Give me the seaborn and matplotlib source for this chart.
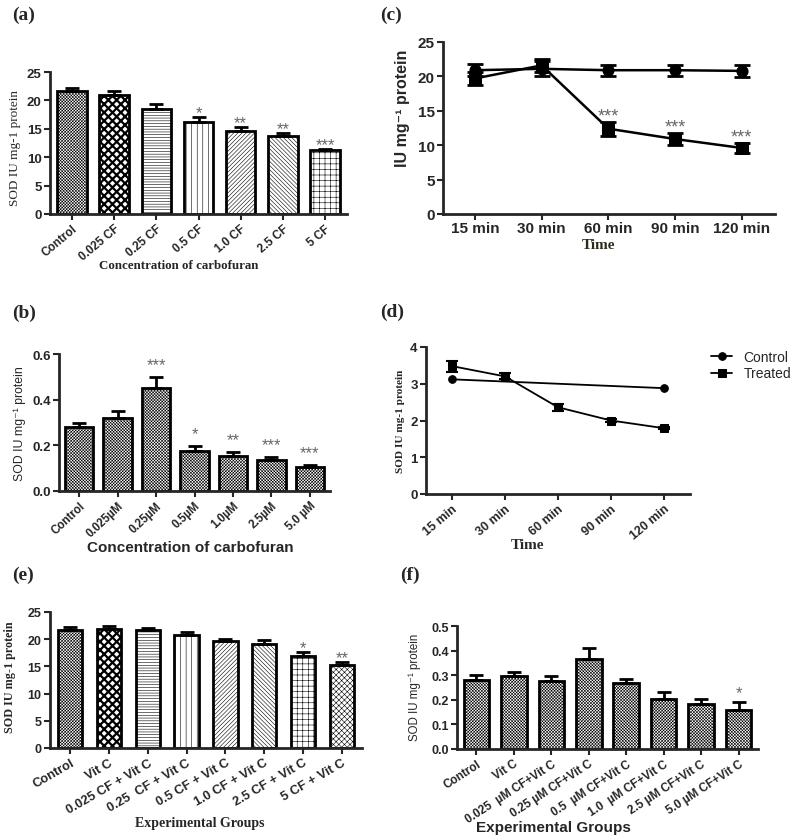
import numpy as np
import pandas as pd
import seaborn as sns
import matplotlib
matplotlib.use('Agg')
import matplotlib.pyplot as plt

# (a) SOD vs carbofuran concentration
a_groups = ['Control', '0.025 CF', '0.25 CF', '0.5 CF', '1.0 CF', '2.5 CF', '5 CF']
a_mean = [21.7, 21.0, 18.4, 16.2, 14.7, 13.7, 11.2]
a_err = [0.5, 0.6, 1.0, 0.9, 0.7, 0.6, 0.3]
a_stars = ['', '', '', '*', '**', '**', '***']

# (b) SOD vs carbofuran concentration (uM)
b_groups = ['Control', '0.025\u00b5M', '0.25\u00b5M', '0.5\u00b5M', '1.0\u00b5M', '2.5\u00b5M', '5.0 \u00b5M']
b_mean = [0.28, 0.32, 0.45, 0.175, 0.152, 0.137, 0.103]
b_err = [0.02, 0.03, 0.05, 0.023, 0.02, 0.014, 0.012]
b_stars = ['', '', '***', '*', '**', '***', '***']

# (c) time course
c_times = ['15 min', '30 min', '60 min', '90 min', '120 min']
c_control = [20.9, 21.1, 20.9, 20.9, 20.8]
c_control_err = [0.9, 1.1, 0.8, 0.8, 0.9]
c_treated = [19.7, 21.6, 12.4, 10.9, 9.6]
c_treated_err = [1.0, 1.0, 1.0, 0.9, 0.7]
c_stars = ['', '', '***', '***', '***']

# (d) time course
d_times = ['15 min', '30 min', '60 min', '90 min', '120 min']
d_control = [3.12, None, None, None, 2.88]
d_treated = [3.48, 3.20, 2.36, 2.00, 1.79]
d_treated_err = [0.15, 0.08, 0.1, 0.03, 0.03]

# (e) Vit C groups
e_groups = ['Control', 'Vit C', '0.025 CF + Vit C', '0.25  CF + Vit C', '0.5 CF + Vit C',
            '1.0 CF + Vit C', '2.5 CF + Vit C', '5 CF + Vit C']
e_mean = [21.7, 21.8, 21.6, 20.8, 19.6, 19.2, 16.9, 15.2]
e_err = [0.5, 0.6, 0.5, 0.6, 0.5, 0.6, 0.8, 0.6]
e_stars = ['', '', '', '', '', '', '*', '**']

# (f) Vit C groups (uM)
f_groups = ['Control', 'Vit C', '0.025  \u00b5M CF+Vit C', '0.25 \u00b5M CF+Vit C', '0.5  \u00b5M CF+Vit C',
            '1.0  \u00b5M CF+Vit C', '2.5 \u00b5M CF+Vit C', '5.0 \u00b5M CF+Vit C']
f_mean = [0.28, 0.295, 0.278, 0.365, 0.27, 0.203, 0.182, 0.16]
f_err = [0.02, 0.02, 0.02, 0.045, 0.015, 0.03, 0.02, 0.03]
f_stars = ['', '', '', '', '', '', '', '*']

sns.set_style('ticks')
plt.rcParams['font.family'] = ['Liberation Sans', 'DejaVu Sans']
plt.rcParams['hatch.linewidth'] = 0.4
SERIF = ['Liberation Serif', 'DejaVu Serif']
SANS = ['Liberation Sans', 'DejaVu Sans']

FINE = 'x' * 11
W, H = 791, 837
fig = plt.figure(figsize=(7.91, 8.37), dpi=100)


def make_ax(left, top, right, bottom):
    return fig.add_axes([left / W, 1 - bottom / H, (right - left) / W, (bottom - top) / H])


def style(ax, tick_size):
    sns.despine(ax=ax)
    for s in ['left', 'bottom']:
        ax.spines[s].set_linewidth(2)
    ax.tick_params(width=1.5, length=4, pad=2, labelsize=tick_size)
    for t in ax.get_yticklabels() + ax.get_xticklabels():
        t.set_fontweight('bold')


def bar_panel(ax, groups, mean, err, stars, hatches, width, star_gap, star_size=12):
    df = pd.DataFrame({'group': groups, 'mean': mean})
    sns.barplot(data=df, x='group', y='mean', order=groups, color='white',
                edgecolor='black', linewidth=2, width=width, ax=ax)
    for p, h in zip(ax.patches, hatches):
        p.set_hatch(h)
        if h == 'xxxx' and hasattr(p, 'set_hatch_linewidth'):
            p.set_hatch_linewidth(1.6)
    x = np.arange(len(groups))
    ax.errorbar(x, mean, yerr=[np.zeros(len(err)), err], fmt='none', ecolor='black',
                elinewidth=2, capsize=5, capthick=2, zorder=3)
    for xi, m, e, s in zip(x, mean, err, stars):
        if s:
            ax.text(xi, m + e + star_gap, s, ha='center', va='bottom', color='#666666', fontsize=star_size)
    ax.set_xlim(-0.52, len(groups) - 0.48)


def rot_labels(ax, labels, angle, size):
    ax.set_xticks(range(len(labels)))
    ax.set_xticklabels(labels, rotation=angle, ha='right', rotation_mode='anchor',
                       fontweight='bold', fontsize=size)


# ---- (a)
ax = make_ax(50, 73, 347, 215)
bar_panel(ax, a_groups, a_mean, a_err, a_stars,
          [FINE, 'xxxx', '------', '|||', '////////', '\\\\\\\\\\\\\\\\', '+++'], 0.7, -0.6)
ax.set_ylim(0, 25)
ax.set_yticks(range(0, 26, 5))
style(ax, 9.5)
rot_labels(ax, a_groups, 40, 8.5)
ax.set_ylabel('SOD IU mg-1 protein', family=SERIF, fontsize=9.5)
ax.yaxis.set_label_coords(-0.098, 0.47)
ax.set_xlabel('Concentration of carbofuran', family=SERIF, fontsize=9.3, fontweight='bold')
ax.xaxis.set_label_coords(0.434, -0.32)

# ---- (b)
ax = make_ax(59, 355, 330, 492)
bar_panel(ax, b_groups, b_mean, b_err, b_stars, [FINE] * 7, 0.73, 0.02)
ax.set_ylim(0, 0.6)
ax.set_yticks([0, 0.2, 0.4, 0.6])
ax.set_yticklabels(['0.0', '0.2', '0.4', '0.6'])
style(ax, 9.5)
rot_labels(ax, b_groups, 43, 8.3)
ax.set_ylabel('SOD IU mg\u207b\u00b9 protein', family=SANS, fontsize=8.8)
ax.yaxis.set_label_coords(-0.12, 0.5)
ax.set_xlabel('Concentration of carbofuran', fontsize=11, fontweight='bold')
ax.xaxis.set_label_coords(0.483, -0.355)

# ---- (c)
ax = make_ax(443, 43, 775, 215)
xc = np.arange(len(c_times))
sns.lineplot(x=xc, y=c_control, color='black', linewidth=1.8, marker='o', markersize=8,
             markeredgecolor='black', ax=ax)
sns.lineplot(x=xc, y=c_treated, color='black', linewidth=1.8, marker='s', markersize=8,
             markeredgecolor='black', ax=ax)
ax.errorbar(xc, c_control, yerr=c_control_err, fmt='none', ecolor='black', elinewidth=2, capsize=6, capthick=2)
ax.errorbar(xc, c_treated, yerr=c_treated_err, fmt='none', ecolor='black', elinewidth=2, capsize=6, capthick=2)
for xi, m, e, s in zip(xc, c_treated, c_treated_err, c_stars):
    if s:
        ax.text(xi, m + e - 0.4, s, ha='center', va='bottom', color='#666666', fontsize=13)
ax.set_xlim(-0.48, 4.5)
ax.set_ylim(0, 25)
ax.set_yticks(range(0, 26, 5))
ax.set_xticks(xc)
ax.set_xticklabels(c_times)
style(ax, 11)
ax.tick_params(axis='x', pad=1)
ax.set_ylabel('IU mg\u207b\u00b9 protein', family=SANS, fontsize=11.5, fontweight='bold')
ax.yaxis.set_label_coords(-0.1, 0.62)
ax.set_xlabel('Time', family=SERIF, fontsize=11, fontweight='bold', color='#2e2a1e')
ax.xaxis.set_label_coords(0.467, -0.14)

# ---- (d)
ax = make_ax(426, 348, 690, 495)
xd = np.arange(len(d_times))
dc = pd.DataFrame({'x': xd, 'y': d_control}).dropna()
sns.lineplot(data=dc, x='x', y='y', color='black', linewidth=1.3, marker='o', markersize=5.5,
             markeredgecolor='black', ax=ax, label='Control')
sns.lineplot(x=xd, y=d_treated, color='black', linewidth=1.3, marker='s', markersize=6,
             markeredgecolor='black', ax=ax, label='Treated')
ax.errorbar(xd, d_treated, yerr=d_treated_err, fmt='none', ecolor='black', elinewidth=1.5, capsize=4, capthick=1.5)
ax.set_xlim(-0.49, 4.49)
ax.set_ylim(0, 4)
ax.set_yticks(range(0, 5))
style(ax, 9.5)
rot_labels(ax, d_times, 40, 9)
ax.set_ylabel('SOD IU mg-1 protein', family=SERIF, fontsize=8.1, fontweight='bold')
ax.yaxis.set_label_coords(-0.08, 0.5)
ax.set_xlabel('Time', family=SERIF, fontsize=11, fontweight='bold')
ax.xaxis.set_label_coords(0.383, -0.3)
ax.legend(loc='upper left', bbox_to_anchor=(1.06, 1.02), frameon=False, fontsize=10,
          handlelength=1.5, handletextpad=0.8, borderaxespad=0, labelspacing=0.2)

# ---- (e)
ax = make_ax(50, 613, 362, 749)
bar_panel(ax, e_groups, e_mean, e_err, e_stars,
          [FINE, 'xxxx', '------', '|||', '////////', '\\\\\\\\\\\\\\\\', '+++', 'xxxxxx'], 0.63, -0.6)
ax.set_ylim(0, 25)
ax.set_yticks(range(0, 26, 5))
style(ax, 9)
rot_labels(ax, e_groups, 30, 9.3)
ax.set_ylabel('SOD IU mg-1 protein', family=SERIF, fontsize=8.7, fontweight='bold')
ax.yaxis.set_label_coords(-0.108, 0.53)
ax.set_xlabel('Experimental Groups', family=SERIF, fontsize=10, fontweight='bold')
ax.xaxis.set_label_coords(0.481, -0.5)

# ---- (f)
ax = make_ax(457, 627, 758, 750)
bar_panel(ax, f_groups, f_mean, f_err, f_stars, [FINE] * 8, 0.68, 0.01)
ax.set_ylim(0, 0.5)
ax.set_yticks([0, 0.1, 0.2, 0.3, 0.4, 0.5])
ax.set_yticklabels(['0.0', '0.1', '0.2', '0.3', '0.4', '0.5'])
style(ax, 9)
rot_labels(ax, f_groups, 33, 8.5)
ax.set_ylabel('SOD IU mg\u207b\u00b9 protein', family=SANS, fontsize=8.3)
ax.yaxis.set_label_coords(-0.12, 0.51)
ax.set_xlabel('Experimental Groups', fontsize=11, fontweight='bold')
ax.xaxis.set_label_coords(0.319, -0.575)

# panel letters
for lab, px, py in [('(a)', 12, 15), ('(c)', 380, 15), ('(b)', 12, 313),
                    ('(d)', 380, 312), ('(e)', 12, 575), ('(f)', 400, 575)]:
    fig.text(px / W, 1 - py / H, lab, family=SERIF, fontsize=14, fontweight='bold', va='center')

fig.savefig('out.png', dpi=100)
